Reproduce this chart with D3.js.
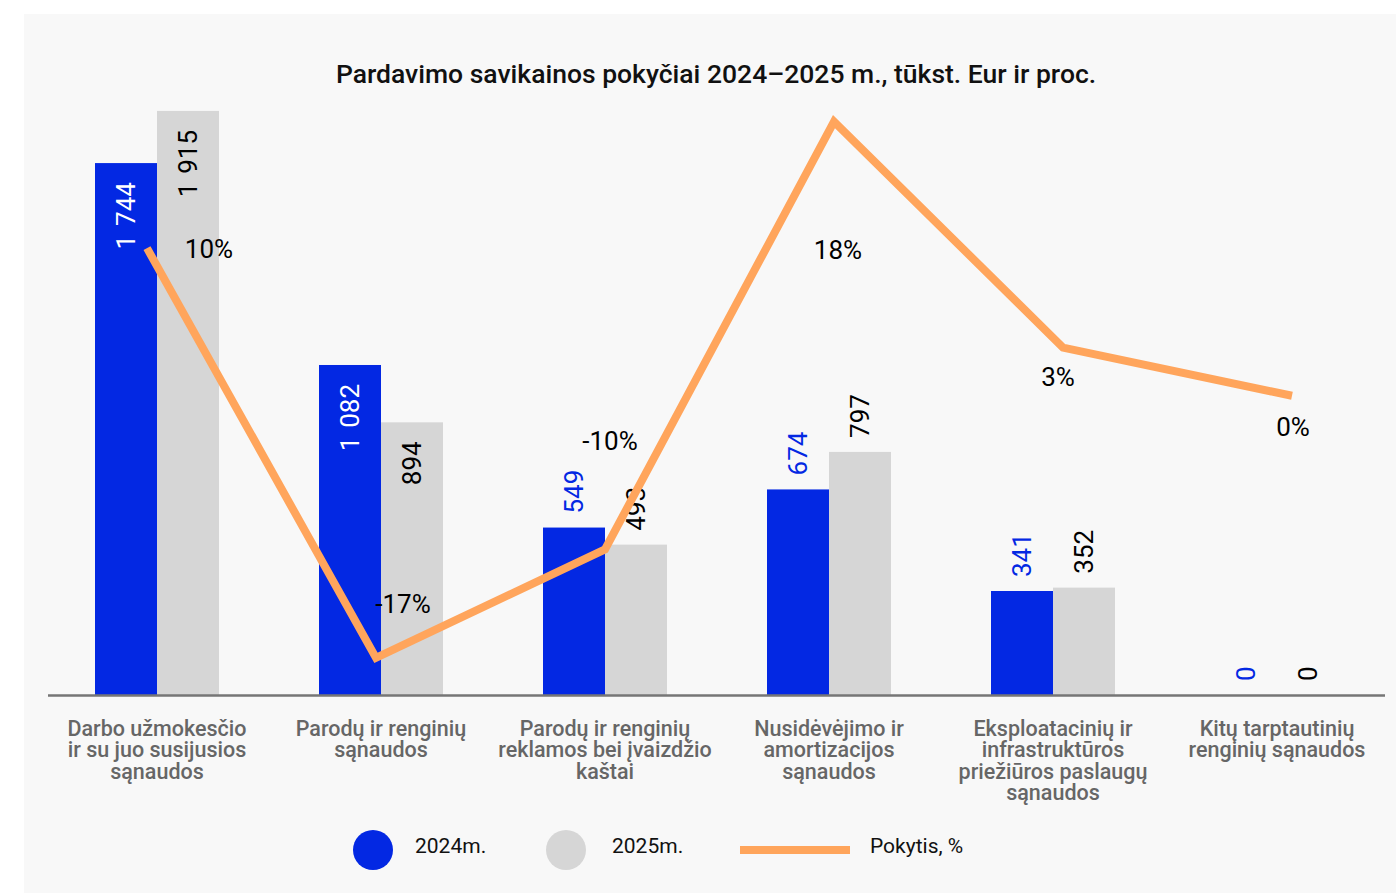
<!DOCTYPE html>
<html>
<head>
<meta charset="utf-8">
<script src="https://cdn.jsdelivr.net/npm/d3@7"></script>
<style>
  html, body { margin: 0; padding: 0; background: #ffffff; }
  svg { display: block; font-family: Roboto, "Noto Sans", sans-serif; }
</style>
</head>
<body>
<svg id="chart" width="1396" height="893"></svg>
<script>
// ---- data ----
const categories = [
  "Darbo užmokesčio\nir su juo susijusios\nsąnaudos",
  "Parodų ir renginių\nsąnaudos",
  "Parodų ir renginių\nreklamos bei įvaizdžio\nkaštai",
  "Nusidėvėjimo ir\namortizacijos\nsąnaudos",
  "Eksploatacinių ir\ninfrastruktūros\npriežiūros paslaugų\nsąnaudos",
  "Kitų tarptautinių\nrenginių sąnaudos"
];
const values2024 = [1744, 1082, 549, 674, 341, 0];
const values2025 = [1915, 894, 493, 797, 352, 0];
const changePct = [9.8, -17.4, -10.2, 18.2, 3.2, 0];
const seriesNames = ["2024m.", "2025m.", "Pokytis, %"];
const title = "Pardavimo savikainos pokyčiai 2024–2025 m., tūkst. Eur ir proc.";

// ---- layout / style ----
const colors = { blue: "#0328e3", gray: "#d6d6d6", orange: "#ffa55c", bg: "#f8f8f8", axis: "#767676", cat: "#666666" };
const pctLabelOffsets = [[62, 1], [27, -54], [5, -108], [4, 128], [-5, 29], [1, 31]];

const svg = d3.select("#chart");
svg.append("rect").attr("x", 24).attr("y", 14).attr("width", 1396 - 24).attr("height", 893 - 14).attr("fill", colors.bg);

svg.append("text").attr("x", 716).attr("y", 83).attr("text-anchor", "middle")
  .attr("font-size", 26.5).attr("font-weight", 500).attr("fill", "#111").text(title);

const x0 = d3.scaleBand().domain(d3.range(categories.length)).range([45, 1389]).paddingInner(0).paddingOuter(0);
const barW = 62;
const y = d3.scaleLinear().domain([0, 2000]).range([695, 85]);
const xLine = d3.scalePoint().domain(d3.range(categories.length)).range([147, 1292]);
const y2 = d3.scaleLinear().domain([-20, 20]).range([697, 94.5]);

const center = i => x0(i) + x0.bandwidth() / 2;

// bars
const series = [
  { vals: values2024, fill: colors.blue, off: -barW, inColor: "#ffffff", outColor: colors.blue },
  { vals: values2025, fill: colors.gray, off: 0, inColor: "#000000", outColor: "#000000" }
];
series.forEach(s => {
  svg.append("g").selectAll("rect").data(s.vals).join("rect")
    .attr("x", (d, i) => center(i) + s.off)
    .attr("y", d => y(d))
    .attr("width", barW)
    .attr("height", d => y(0) - y(d))
    .attr("fill", s.fill);
});

// axis line
svg.append("line").attr("x1", 48).attr("x2", 1385).attr("y1", 695.5).attr("y2", 695.5)
  .attr("stroke", colors.axis).attr("stroke-width", 2.5);

// bar labels
const fmt = v => d3.format(",")(v).replace(/,/g, "\u2004");
series.forEach(s => {
  svg.append("g").selectAll("text").data(s.vals).join("text")
    .each(function (d, i) {
      const cx = center(i) + s.off + barW / 2;
      const inside = d >= 850;
      const yy = inside ? y(d) + 19 : y(d) - 14;
      d3.select(this)
        .attr("transform", `translate(${cx},${yy}) rotate(-90)`)
        .attr("text-anchor", inside ? "end" : "start")
        .attr("dominant-baseline", "central")
        .attr("font-size", 26)
        .attr("fill", inside ? s.inColor : s.outColor)
        .text(fmt(d));
    });
});

// line
const line = d3.line().x((d, i) => xLine(i)).y(d => y2(d));
svg.append("path").datum(changePct).attr("d", line)
  .attr("fill", "none").attr("stroke", colors.orange).attr("stroke-width", 8).attr("stroke-linejoin", "miter");

// pct labels
svg.append("g").selectAll("text").data(changePct).join("text")
  .attr("x", (d, i) => xLine(i) + pctLabelOffsets[i][0])
  .attr("y", (d, i) => y2(d) + pctLabelOffsets[i][1])
  .attr("text-anchor", "middle").attr("dominant-baseline", "central")
  .attr("font-size", 26).attr("fill", "#000")
  .text(d => Math.round(d) + "%");

// category labels
categories.forEach((c, i) => {
  const t = svg.append("text").attr("x", center(i)).attr("y", 736)
    .attr("text-anchor", "middle").attr("font-size", 21.5).attr("font-weight", 500).attr("fill", colors.cat);
  c.split("\n").forEach((ln, k) => {
    t.append("tspan").attr("x", center(i)).attr("dy", k === 0 ? 0 : 21.3).text(ln);
  });
});

// legend
const lg = svg.append("g");
lg.append("ellipse").attr("cx", 373).attr("cy", 850).attr("rx", 20).attr("ry", 20).attr("fill", colors.blue);
lg.append("text").attr("x", 415).attr("y", 853).attr("font-size", 21).attr("fill", "#111").text(seriesNames[0]);
lg.append("ellipse").attr("cx", 566).attr("cy", 850).attr("rx", 20).attr("ry", 20).attr("fill", colors.gray);
lg.append("text").attr("x", 612).attr("y", 853).attr("font-size", 21).attr("fill", "#111").text(seriesNames[1]);
lg.append("line").attr("x1", 740).attr("x2", 850).attr("y1", 850).attr("y2", 850).attr("stroke", colors.orange).attr("stroke-width", 8);
lg.append("text").attr("x", 870).attr("y", 853).attr("font-size", 21).attr("fill", "#111").text(seriesNames[2]);
</script>
</body>
</html>
